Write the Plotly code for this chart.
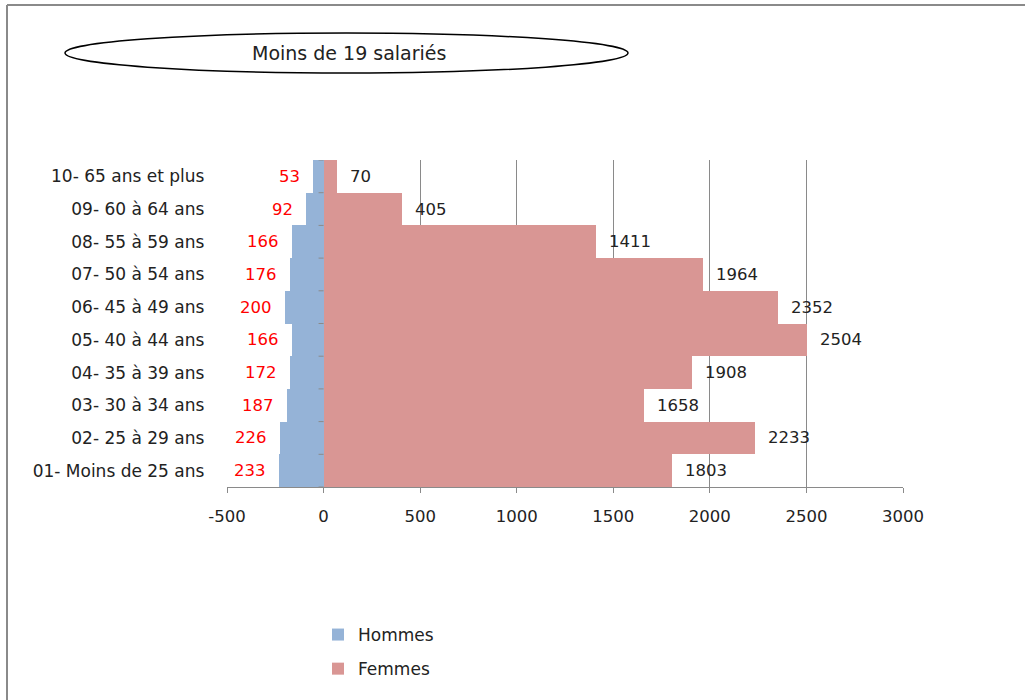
import plotly.graph_objects as go

# Age groups (bottom to top) and headcounts by sex
categories = [
    "01- Moins de 25 ans",
    "02- 25 à 29 ans",
    "03- 30 à 34 ans",
    "04- 35 à 39 ans",
    "05- 40 à 44 ans",
    "06- 45 à 49 ans",
    "07- 50 à 54 ans",
    "08- 55 à 59 ans",
    "09- 60 à 64 ans",
    "10- 65 ans et plus",
]
hommes = [233, 226, 187, 172, 166, 200, 176, 166, 92, 53]
femmes = [1803, 2233, 1658, 1908, 2504, 2352, 1964, 1411, 405, 70]

x_ticks = [-500, 0, 500, 1000, 1500, 2000, 2500, 3000]
x_tick_labels = ["-500", "0", "500", "1000", "1500", "2000", "2500", "3000"]
titre = "Moins de 19 salariés"

BLUE = "#95B3D7"
PINK = "#D99694"
GRID = "#8a8a8a"
TXT = "#222222"
FONT = "DejaVu Sans"

W, H = 1025, 700
L, R, T, B = 227, 122, 160, 213
pw, ph = W - L - R, H - T - B


def px_x(p):
    return (p - L) / pw


def px_y(p):
    return (H - B - p) / ph


fig = go.Figure()
fig.add_trace(go.Bar(
    y=categories, x=[-v for v in hommes], orientation="h", name="Hommes",
    marker=dict(color=BLUE, line=dict(width=0)), legendgroup="h",
))
fig.add_trace(go.Bar(
    y=categories, x=femmes, orientation="h", name="Femmes",
    marker=dict(color=PINK, line=dict(width=0)), legendgroup="f",
))

annotations = []
for cat, v in zip(categories, hommes):
    annotations.append(dict(x=-v, y=cat, xref="x", yref="y", text=str(v),
                            showarrow=False, xanchor="right", xshift=-11,
                            font=dict(family=FONT, size=16.5, color="#ff0000")))
for cat, v in zip(categories, femmes):
    annotations.append(dict(x=v, y=cat, xref="x", yref="y", text=str(v),
                            showarrow=False, xanchor="left", xshift=11,
                            font=dict(family=FONT, size=16.5, color=TXT)))
annotations.append(dict(x=px_x(349), y=px_y(53), xref="paper", yref="paper",
                        text=titre, showarrow=False, xanchor="center", yanchor="middle",
                        font=dict(family=FONT, size=19, color=TXT)))

shapes = [
    # outer frame (top and left edges inside the page)
    dict(type="line", xref="paper", yref="paper",
         x0=px_x(7), x1=px_x(1100), y0=px_y(5), y1=px_y(5),
         line=dict(color="#8a8a8a", width=2), layer="below"),
    dict(type="line", xref="paper", yref="paper",
         x0=px_x(7), x1=px_x(7), y0=px_y(5), y1=px_y(760),
         line=dict(color="#8a8a8a", width=2), layer="below"),
    # title ellipse
    dict(type="circle", xref="paper", yref="paper",
         x0=px_x(65), x1=px_x(628), y0=px_y(73), y1=px_y(33),
         line=dict(color="#000000", width=1.5)),
]
# tick marks on the vertical axis at x = 0, between categories
tick_len = 5 * 3500 / pw
for i in range(len(categories) + 1):
    shapes.append(dict(type="line", xref="x", yref="y",
                       x0=-tick_len, x1=0, y0=i - 0.5, y1=i - 0.5,
                       line=dict(color=GRID, width=1)))

fig.update_layout(
    width=W, height=H,
    margin=dict(l=L, r=R, t=T, b=B),
    paper_bgcolor="white", plot_bgcolor="white",
    barmode="overlay", bargap=0,
    font=dict(family=FONT, size=16, color=TXT),
    showlegend=True,
    legend=dict(x=px_x(318), y=px_y(617), xanchor="left", yanchor="top",
                orientation="v", traceorder="grouped", tracegroupgap=9,
                font=dict(family=FONT, size=17, color=TXT),
                bgcolor="rgba(0,0,0,0)"),
    annotations=annotations,
    shapes=shapes,
    xaxis=dict(range=[-500, 3000], tickmode="array", tickvals=x_ticks,
               ticktext=x_tick_labels,
               showgrid=True, gridcolor=GRID, gridwidth=1,
               zeroline=True, zerolinecolor=GRID, zerolinewidth=1,
               showline=True, linecolor=GRID, linewidth=1,
               ticks="outside", ticklen=5, tickcolor=GRID,
               ticklabelstandoff=9,
               tickfont=dict(family=FONT, size=16.5, color=TXT)),
    yaxis=dict(type="category", categoryorder="array", categoryarray=categories,
               range=[-0.5, len(categories) - 0.5],
               showgrid=False, zeroline=False, showline=False, ticks="",
               ticksuffix="    ",
               tickfont=dict(family=FONT, size=17, color=TXT)),
)

# keep the page from showing a scrollbar next to the figure
fig.write_html(
    "out.html",
    post_script="document.documentElement.style.overflow='hidden';"
                "document.body.style.overflow='hidden';",
)
